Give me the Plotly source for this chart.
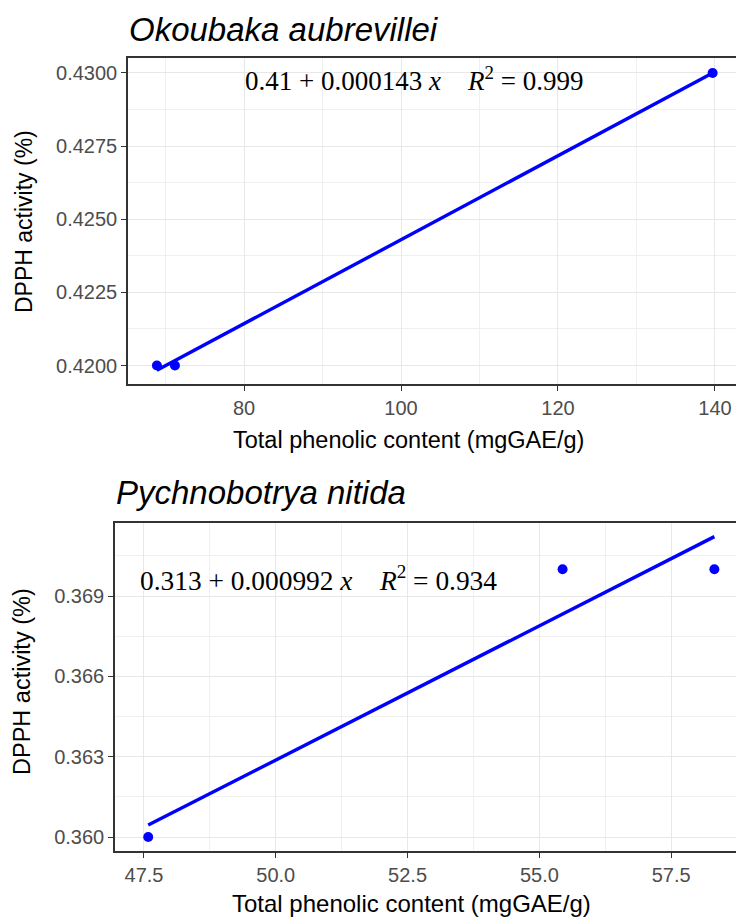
import numpy as np
import plotly.graph_objects as go

# Panel 1: Okoubaka aubrevillei
tpc_oko = [68.9, 71.2, 139.7]
dpph_oko = [0.4200, 0.4200, 0.4300]
# Panel 2: Pychnobotrya nitida
tpc_pyc = [47.58, 55.44, 58.32]
dpph_pyc = [0.3600, 0.3700, 0.3700]

eq_oko = "0.41 + 0.000143 <i>x</i>&nbsp;&nbsp;&nbsp;&nbsp;<i>R</i><sup>2</sup> = 0.999"
eq_pyc = "0.313 + 0.000992 <i>x</i>&nbsp;&nbsp;&nbsp;&nbsp;<i>R</i><sup>2</sup> = 0.934"

x_ticks_oko = [80, 100, 120, 140]
y_ticks_oko = [0.4200, 0.4225, 0.4250, 0.4275, 0.4300]
x_ticks_pyc = [47.5, 50.0, 52.5, 55.0, 57.5]
y_ticks_pyc = [0.360, 0.363, 0.366, 0.369]

W, H = 736, 917
BLUE = "#0000ff"
TICKC = "#4d4d4d"
SANS = "Liberation Sans, Arial, sans-serif"
SERIF = "Liberation Serif, Times New Roman, serif"


def fit(xs, ys):
    b, a = np.polyfit(xs, ys, 1)
    xl = np.array([min(xs), max(xs)])
    return xl, a + b * xl


fig = go.Figure()

for i, (xs, ys) in enumerate([(tpc_oko, dpph_oko), (tpc_pyc, dpph_pyc)]):
    xa = "x" if i == 0 else "x2"
    ya = "y" if i == 0 else "y2"
    xl, yl = fit(xs, ys)
    fig.add_trace(go.Scatter(x=xl, y=yl, mode="lines", line=dict(color=BLUE, width=3.4),
                             xaxis=xa, yaxis=ya, showlegend=False, hoverinfo="skip"))
    fig.add_trace(go.Scatter(x=xs, y=ys, mode="markers", marker=dict(color=BLUE, size=10),
                             xaxis=xa, yaxis=ya, showlegend=False))


def px_x(p):
    return p / W


def px_y(p):
    return 1 - p / H


common_axis = dict(
    showline=True, linecolor="#333333", linewidth=1.6,
    ticks="outside", ticklen=5, tickwidth=1.3, tickcolor="#333333",
    tickfont=dict(family=SANS, size=20, color=TICKC),
    showgrid=True, gridcolor="#e8e8e8", gridwidth=1.4,
    zeroline=False,
    minor=dict(showgrid=True, gridcolor="#f0f0f0", gridwidth=0.9),
)

fig.update_layout(
    width=W, height=H,
    margin=dict(l=0, r=0, t=0, b=0),
    paper_bgcolor="white", plot_bgcolor="white",
    xaxis=dict(common_axis, domain=[px_x(128), 1], range=[65.22, 142.68],
               tickvals=x_ticks_oko, ticktext=[str(v) for v in x_ticks_oko],
               mirror=True, anchor="y", minor=dict(common_axis["minor"], tickvals=[70, 90, 110, 130], ticks="")),
    yaxis=dict(common_axis, domain=[px_y(384), px_y(58)], range=[0.41937, 0.43051],
               tickvals=y_ticks_oko, ticktext=[f"{v:.4f}" for v in y_ticks_oko],
               anchor="x", minor=dict(common_axis["minor"], tickvals=[0.42125, 0.42375, 0.42625, 0.42875], ticks="")),
    xaxis2=dict(common_axis, domain=[px_x(115), 1], range=[46.95, 58.73],
                tickvals=x_ticks_pyc, ticktext=[f"{v:.1f}" for v in x_ticks_pyc],
                mirror=True, anchor="y2", minor=dict(common_axis["minor"], tickvals=[48.75, 51.25, 53.75, 56.25], ticks="")),
    yaxis2=dict(common_axis, domain=[px_y(851), px_y(523)], range=[0.35948, 0.37173],
                tickvals=y_ticks_pyc, ticktext=[f"{v:.3f}" for v in y_ticks_pyc],
                anchor="x2", minor=dict(common_axis["minor"], tickvals=[0.3615, 0.3645, 0.3675, 0.3705], ticks="")),
)

ann = []
# Titles
ann.append(dict(text="<i>Okoubaka aubrevillei</i>", x=px_x(127), y=px_y(29), xref="paper", yref="paper",
                xanchor="left", yanchor="middle", showarrow=False,
                font=dict(family=SANS, size=33, color="black")))
ann.append(dict(text="<i>Pychnobotrya nitida</i>", x=px_x(114), y=px_y(492), xref="paper", yref="paper",
                xanchor="left", yanchor="middle", showarrow=False,
                font=dict(family=SANS, size=33, color="black")))
# Equations
ann.append(dict(text=eq_oko, x=px_x(414), y=px_y(79), xref="paper", yref="paper",
                xanchor="center", yanchor="middle", showarrow=False,
                font=dict(family=SERIF, size=27, color="black")))
ann.append(dict(text=eq_pyc, x=px_x(318), y=px_y(578), xref="paper", yref="paper",
                xanchor="center", yanchor="middle", showarrow=False,
                font=dict(family=SERIF, size=27.4, color="black")))
# Axis titles
ann.append(dict(text="Total phenolic content (mgGAE/g)", x=px_x(408), y=px_y(440), xref="paper", yref="paper",
                xanchor="center", yanchor="middle", showarrow=False,
                font=dict(family=SANS, size=23.5, color="black")))
ann.append(dict(text="Total phenolic content (mgGAE/g)", x=px_x(411), y=px_y(903), xref="paper", yref="paper",
                xanchor="center", yanchor="middle", showarrow=False,
                font=dict(family=SANS, size=24, color="black")))
ann.append(dict(text="DPPH activity (%)", x=px_x(24), y=px_y(222), xref="paper", yref="paper",
                xanchor="center", yanchor="middle", showarrow=False, textangle=-90,
                font=dict(family=SANS, size=23, color="black")))
ann.append(dict(text="DPPH activity (%)", x=px_x(22), y=px_y(682), xref="paper", yref="paper",
                xanchor="center", yanchor="middle", showarrow=False, textangle=-90,
                font=dict(family=SANS, size=23.5, color="black")))
fig.update_layout(annotations=ann)

fig.write_html("out.html", config={"displayModeBar": False},
               post_script="document.body.style.margin='0';document.body.style.padding='0';")
